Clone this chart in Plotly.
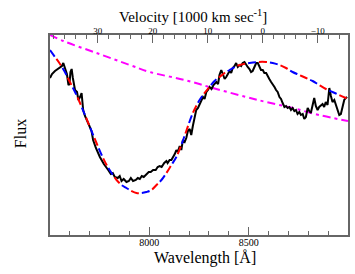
import plotly.graph_objects as go

# Observed spectrum
wave_obs = [7500, 7510, 7525, 7540, 7550, 7560, 7567, 7575, 7585, 7593, 7598, 7603, 7609, 7615,
            7626, 7636, 7643, 7651, 7659, 7667, 7676, 7692, 7701, 7709, 7717, 7731, 7751, 7771,
            7793, 7806, 7816, 7826, 7841, 7851, 7860, 7871, 7885, 7897, 7907, 7918, 7932, 7942,
            7952, 7962, 7972, 7985, 7997, 8007, 8019, 8032, 8042, 8052, 8062, 8075, 8086, 8092,
            8102, 8111, 8117, 8128, 8136, 8143, 8153, 8161, 8169, 8178, 8186, 8194, 8203, 8211,
            8219, 8228, 8236, 8245, 8253, 8261, 8270, 8278, 8287, 8295, 8303, 8313, 8323, 8337,
            8346, 8353, 8362, 8370, 8379, 8387, 8396, 8404, 8412, 8420, 8429, 8437, 8445, 8454,
            8462, 8470, 8479, 8487, 8495, 8504, 8512, 8520, 8529, 8538, 8546, 8554, 8562, 8571,
            8579, 8588, 8596, 8604, 8613, 8621, 8630, 8638, 8646, 8655, 8663, 8671, 8680, 8688,
            8696, 8705, 8713, 8721, 8730, 8738, 8746, 8755, 8763, 8772, 8780, 8788, 8797, 8805,
            8813, 8822, 8830, 8838, 8847, 8855, 8863, 8872, 8880, 8888, 8897, 8906, 8914, 8922,
            8931, 8939, 8947, 8956, 8964, 8972, 8981, 8989, 8996]
flux_obs = [78.5, 80.5, 82, 83, 83.5, 84.5, 86, 84, 80.5, 75, 75.5, 81.5, 83, 78.5,
            72.5, 71.5, 67.5, 69, 71, 62.5, 59.5, 56, 54, 52, 47.5, 43.5, 39, 35.5,
            32.5, 30.5, 31, 29, 28.5, 29.5, 27, 28, 26.5, 27, 28.5, 27, 27.5, 28.5,
            28, 29.5, 29, 30.5, 31.5, 31.5, 32.5, 32.5, 34, 34.5, 34, 36, 37, 36,
            37.5, 37.5, 38.5, 40.5, 42.5, 41.5, 44.5, 42.5, 47.5, 46.5, 48.5, 52, 53, 50,
            54.5, 58.5, 62.5, 63.5, 65.5, 67.5, 69, 68, 71.5, 72.5, 74, 73, 75, 76.5,
            75.5, 80, 82.5, 80.5, 78, 79, 80.5, 82, 81, 83.5, 84.5, 86, 84, 85,
            84.5, 86, 86.5, 85, 84, 83, 81.5, 82, 84.5, 86, 86, 84, 82.5, 82.5,
            81, 81, 79, 78, 76.5, 75.5, 74, 72.5, 71.5, 69, 68, 66, 64, 64.5,
            63.5, 64, 62.5, 63.5, 62, 62.5, 60.5, 61.5, 60, 60.5, 58, 59, 63.5, 62,
            61, 65, 68.5, 64.5, 62.5, 64, 64.5, 65.5, 64, 66.5, 65, 73.5, 69.5, 66.5,
            67.5, 65, 62.5, 60, 60.5, 64.5, 67.5, 68.5, 69]

# Model fit (P-Cygni profile)
wave_fit = [7500, 7525, 7547, 7575, 7600, 7626, 7651, 7676, 7701, 7734, 7760, 7785, 7810,
            7835, 7860, 7885, 7910, 7935, 7960, 7985, 8011, 8036, 8061, 8086, 8111, 8136,
            8161, 8186, 8219, 8253, 8278, 8303, 8328, 8353, 8379, 8404, 8454, 8504, 8546,
            8588, 8621, 8655, 8688, 8721, 8755, 8789, 8822, 8855, 8889, 8922, 8956, 8989, 9000]
flux_fit = [92.5, 89, 86, 81.5, 76.5, 71.5, 66, 60, 54, 46, 40, 35, 31,
            27.5, 25, 23.5, 22, 21, 21, 21.5, 22.5, 25, 27.5, 31, 35, 39,
            45, 52, 61, 67.5, 71, 74, 77, 79, 81, 82.5, 85, 86, 86.5,
            86.5, 86, 85, 83.5, 81.5, 80, 78.5, 77, 75, 73, 71.5, 70, 68.5, 68]

# Continuum
wave_cont = [7500, 7567, 7734, 7902, 8002, 8178, 8320, 8487, 8588, 8721, 8855, 9000]
flux_cont = [100, 97, 91, 85, 81.5, 77.5, 73.5, 69, 66.5, 63.5, 60, 57]

x_range = [7500, 9000]
vel_range = [38.67, -15.5]
y_range = [0, 100]

SERIF = "Liberation Serif, Times New Roman, serif"
AXC = "#666666"

fig = go.Figure()
fig.add_trace(go.Scatter(x=wave_cont, y=flux_cont, mode="lines", line_shape="spline",
                         line=dict(color="#ff00ff", width=2, dash="8px,4px,3px,4px"),
                         hoverinfo="skip", showlegend=False))
fig.add_trace(go.Scatter(x=wave_obs, y=flux_obs, mode="lines",
                         line=dict(color="black", width=2), showlegend=False))
fig.add_trace(go.Scatter(x=wave_fit, y=flux_fit, mode="lines", line_shape="spline",
                         line=dict(color="#0000ff", width=2, dash="8px,14px"), showlegend=False))
fig.add_trace(go.Scatter(x=wave_fit, y=flux_fit, mode="lines", line_shape="spline",
                         line=dict(color="#ff0000", width=2, dash="0px,11px,8px,3px"), showlegend=False))
# invisible carrier so the top velocity axis is drawn
fig.add_trace(go.Scatter(x=vel_range, y=y_range, xaxis="x2", mode="markers",
                         marker=dict(opacity=0, size=1), hoverinfo="skip", showlegend=False))

fig.update_layout(
    width=355, height=274,
    margin=dict(l=50, r=7, t=35, b=39, autoexpand=False),
    paper_bgcolor="white", plot_bgcolor="white",
    font=dict(family=SERIF, color="black"),
    xaxis=dict(range=x_range, showgrid=False, zeroline=False, automargin=False,
               showline=True, linecolor=AXC, linewidth=1.5,
               ticks="inside", ticklen=8, tickcolor=AXC, tickwidth=1,
               ticklabelstandoff=-3,
               tickvals=[8000, 8500], tickfont=dict(size=10, family=SERIF),
               minor=dict(dtick=100, tick0=7500, ticks="inside", ticklen=4, tickcolor=AXC)),
    xaxis2=dict(range=vel_range, overlaying="x", side="top", showgrid=False, zeroline=False,
                automargin=False,
                showline=True, linecolor=AXC, linewidth=1.5,
                ticks="inside", ticklen=8, tickcolor=AXC, tickwidth=1,
                ticklabelstandoff=-4,
                dtick=10, tick0=0, tickfont=dict(size=9, family=SERIF),
                minor=dict(dtick=2, tick0=0, ticks="inside", ticklen=4, tickcolor=AXC)),
    yaxis=dict(range=y_range, showgrid=False, zeroline=False, showticklabels=False, automargin=False,
               showline=True, mirror=True, linecolor=AXC, linewidth=1.5, ticks=""),
    annotations=[
        dict(text="Velocity [1000 km sec<sup>-1</sup>]", xref="paper", yref="paper",
             x=0.48, y=1.095, xanchor="center", yanchor="middle", showarrow=False,
             font=dict(size=15, family=SERIF)),
        dict(text="Wavelength [Å]", xref="paper", yref="paper",
             x=0.519, y=-0.113, xanchor="center", yanchor="middle", showarrow=False,
             font=dict(size=16, family=SERIF)),
        dict(text="Flux", xref="paper", yref="paper", textangle=-90,
             x=-0.1, y=0.505, xanchor="center", yanchor="middle", showarrow=False,
             font=dict(size=16, family=SERIF)),
    ],
)

fig.write_html("out.html", config={"displayModeBar": False},
               post_script="document.body.style.margin='0';")
